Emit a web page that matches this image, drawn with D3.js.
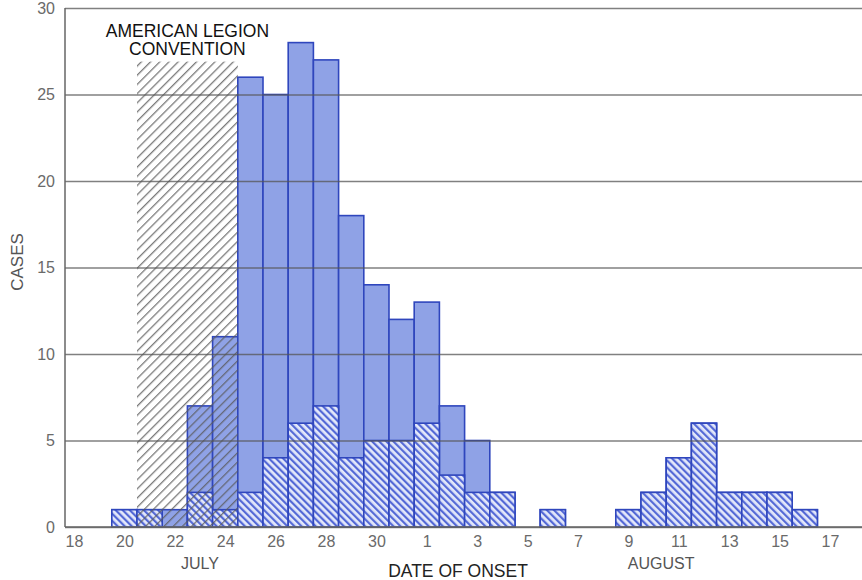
<!DOCTYPE html>
<html>
<head>
<meta charset="utf-8">
<script src="https://cdn.jsdelivr.net/npm/d3@7"></script>
<style>
  html, body { margin: 0; padding: 0; background: #fff; }
  svg { display: block; }
  text { font-family: "Liberation Sans", Arial, Helvetica, sans-serif; }
</style>
</head>
<body>
<svg id="chart" width="862" height="580"></svg>
<script>
// Onset day, counted from 1 July (so 1 August = 32)
const onsetDays   = [20, 21, 22, 23, 24, 25, 26, 27, 28, 29, 30, 31, 32, 33, 34, 35, 36, 37, 38, 39, 40, 41, 42, 43, 44, 45, 46, 47];
// Total cases with onset on each day
const totalCases  = [ 1,  1,  1,  7, 11, 26, 25, 28, 27, 18, 14, 12, 13,  7,  5,  2,  0,  1,  0,  0,  1,  2,  4,  6,  2,  2,  2,  1];
// Portion of those cases drawn hatched
const subsetCases = [ 1,  1,  0,  2,  1,  2,  4,  6,  7,  4,  5,  5,  6,  3,  2,  2,  0,  1,  0,  0,  1,  2,  4,  6,  2,  2,  2,  1];

// Tick days and their printed labels
const xTickDays   = [18, 20, 22, 24, 26, 28, 30, 32, 34, 36, 38, 40, 42, 44, 46, 48];
const xTickLabels = ["18", "20", "22", "24", "26", "28", "30", "1", "3", "5", "7", "9", "11", "13", "15", "17"];
const yTicks      = [0, 5, 10, 15, 20, 25, 30];

// Convention period (first and last day) and the height of its shaded block
const conventionDays = [21, 24];
const conventionTop  = 26.9;
const conventionLines = ["AMERICAN LEGION", "CONVENTION"];

const monthLabels = [
  { text: "JULY",   day: 23.0 },
  { text: "AUGUST", day: 41.3 }
];

const svg = d3.select("#chart");
const plotLeft = 65, plotRight = 862, plotTop = 8, plotBottom = 527;

const x = d3.scaleLinear().domain([18, 48]).range([74, 830]);
const y = d3.scaleLinear().domain([0, 30]).range([plotBottom, plotTop]);
const bw = x(1) - x(0);

// Patterns
const defs = svg.append("defs");
const hatch = defs.append("pattern")
  .attr("id", "subsetHatch")
  .attr("patternUnits", "userSpaceOnUse")
  .attr("width", 5).attr("height", 5)
  .attr("patternTransform", "rotate(-45)");
hatch.append("rect").attr("width", 5).attr("height", 5).attr("fill", "#e3e8fa");
hatch.append("rect").attr("x", 0).attr("width", 2.2).attr("height", 5).attr("fill", "#5469d6");

const conv = defs.append("pattern")
  .attr("id", "convHatch")
  .attr("patternUnits", "userSpaceOnUse")
  .attr("width", 6.5).attr("height", 6.5)
  .attr("patternTransform", "rotate(45)");
conv.append("rect").attr("x", 0).attr("width", 1.3).attr("height", 6.5).attr("fill", "#5a5a5a").attr("fill-opacity", 0.8);

const data = onsetDays.map((d, i) => ({ day: d, total: totalCases[i], subset: subsetCases[i] }))
  .filter(d => d.total > 0);

// Total bars (solid blue)
svg.append("g").selectAll("rect")
  .data(data)
  .join("rect")
  .attr("x", d => x(d.day) - bw / 2)
  .attr("width", bw)
  .attr("y", d => y(d.total))
  .attr("height", d => y(0) - y(d.total))
  .attr("fill", "#8fa2e6")
  .attr("stroke", "#2f46bd")
  .attr("stroke-width", 1.6);

// Hatched portion at the base of each bar
svg.append("g").selectAll("rect")
  .data(data.filter(d => d.subset > 0))
  .join("rect")
  .attr("x", d => x(d.day) - bw / 2)
  .attr("width", bw)
  .attr("y", d => y(d.subset))
  .attr("height", d => y(0) - y(d.subset))
  .attr("fill", "url(#subsetHatch)")
  .attr("stroke", "#2f46bd")
  .attr("stroke-width", 1.6);

// Convention period shading
svg.append("rect")
  .attr("x", x(conventionDays[0]) - bw / 2)
  .attr("width", x(conventionDays[1]) - x(conventionDays[0]) + bw)
  .attr("y", y(conventionTop))
  .attr("height", y(0) - y(conventionTop))
  .attr("fill", "url(#convHatch)");

svg.append("text")
  .attr("text-anchor", "middle")
  .attr("font-size", 17.5)
  .attr("fill", "#111")
  .selectAll("tspan")
  .data(conventionLines)
  .join("tspan")
  .attr("x", x((conventionDays[0] + conventionDays[1]) / 2))
  .attr("y", (d, i) => 36.5 + i * 18)
  .text(d => d);

// Gridlines and y labels
const yAxis = svg.append("g")
  .attr("transform", `translate(${plotLeft},0)`)
  .call(d3.axisLeft(y).tickValues(yTicks).tickSize(-(plotRight - plotLeft)).tickPadding(10).tickFormat(d3.format("d")));
yAxis.select(".domain").remove();
yAxis.selectAll(".tick line").attr("stroke", "#555").attr("stroke-opacity", 0.75).attr("stroke-width", 1.3);
yAxis.selectAll(".tick text").attr("font-size", 16).attr("fill", "#6a6a6a")
  .attr("font-family", "'Liberation Sans', Arial, sans-serif");

// Left axis line
svg.append("line")
  .attr("x1", plotLeft).attr("x2", plotLeft)
  .attr("y1", plotTop).attr("y2", plotBottom)
  .attr("stroke", "#666").attr("stroke-width", 1.5);

// X axis
const xAxis = svg.append("g")
  .attr("transform", `translate(0,${plotBottom})`)
  .call(d3.axisBottom(x).tickValues(xTickDays).tickSize(0).tickPadding(9)
    .tickFormat((d, i) => xTickLabels[i]));
xAxis.select(".domain").remove();
xAxis.selectAll(".tick text").attr("font-size", 16).attr("fill", "#6a6a6a")
  .attr("font-family", "'Liberation Sans', Arial, sans-serif");
svg.append("line")
  .attr("x1", plotLeft).attr("x2", plotRight)
  .attr("y1", plotBottom).attr("y2", plotBottom)
  .attr("stroke", "#666").attr("stroke-width", 1.5);

// Month labels
svg.append("g").selectAll("text")
  .data(monthLabels)
  .join("text")
  .attr("x", d => x(d.day))
  .attr("y", 569)
  .attr("text-anchor", "middle")
  .attr("font-size", 16)
  .attr("fill", "#555")
  .text(d => d.text);

// Axis titles
svg.append("text")
  .attr("x", 458).attr("y", 577)
  .attr("text-anchor", "middle")
  .attr("font-size", 17.5)
  .attr("fill", "#222")
  .text("DATE OF ONSET");

svg.append("text")
  .attr("transform", "translate(23,262) rotate(-90)")
  .attr("text-anchor", "middle")
  .attr("font-size", 17)
  .attr("fill", "#555")
  .text("CASES");
</script>
</body>
</html>
